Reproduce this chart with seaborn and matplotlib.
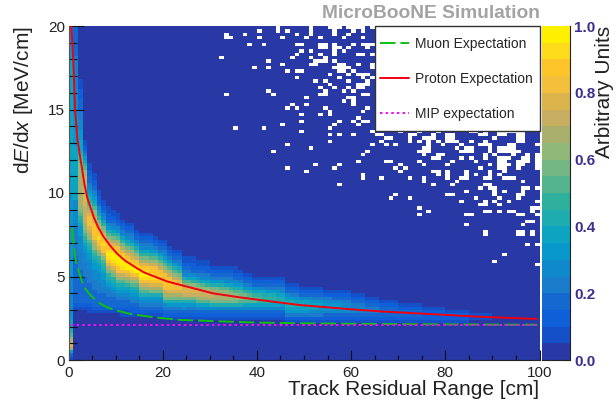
import numpy as np
import pandas as pd
from matplotlib import pyplot as plt
from matplotlib.colors import ListedColormap
from matplotlib.patches import Rectangle
from matplotlib.ticker import MultipleLocator
import seaborn as sns

# 20 colour bands of the z axis, bottom to top
band_colors = ["#2838a5", "#1450c8", "#0f5fd8", "#1468d0", "#1c7ccc",
               "#1088cc", "#0898cc", "#0ca4c0", "#1eacb0", "#2eb09c",
               "#54b48e", "#74b684", "#90b878", "#a8b06c", "#c8ae60",
               "#dcb44e", "#f4c03c", "#fcc428", "#fedc1c", "#fff000"]
level_chars = "0123456789abcdefghij"

# first y bin of each column string below (bins are 1 cm x 0.2 MeV/cm)
heat_start = [0, 15, 15, 15, 14, 14, 14, 14, 14, 14,
              14, 13, 13, 13, 13, 13, 13, 13, 13, 13,
              13, 12, 12, 12, 12, 12, 12, 12, 12, 12,
              12, 12, 12, 12, 12, 12, 12, 12, 12, 12,
              12, 12, 12, 12, 12, 12, 11, 11, 11, 11,
              11, 11, 11, 11, 11, 11, 11, 11, 11, 11,
              11, 11, 11, 11, 11, 11, 11, 11, 11, 11,
              11, 11, 11, 11, 11, 11, 11, 11, 11, 11,
              11, 11, 11, 11, 11, 11, 11, 11, 11, 11,
              11, 11, 11, 11, 11, 11, 11, 11, 11, 11]

# colour band read per bin, one string per 1 cm column
heat_cols = [
    "137dfeca987766555555555556666666666666666666666666"
    "77777777777777777777777777777777777777776666664444",
    "1233333333333333444444444455555557777777777777777"
    "666666666555555554444444444333333333",
    "1233333333334444445555666789abcdddddddddccccba98777666555444333222111",
    "1233333333444455566789abcdeeeeeffffeeeeedca97643211",
    "112333333444455566789acdefgggfeca987654332211",
    "123333344455566789acdeghhhgfedca8765432211",
    "12333344455566789bdfghihgfdb976532211",
    "123333445566789aceghihgfdb97543211",
    "123334456789bdfhijihgeca86532211",
    "12333456789bdfhijjihfdb97543211",
    "123345678aceghijjihgeca8653211",
    "1123345678acegijjihfdb9754321",
    "1123345679bdfhjjigfdb9754321",
    "122345678acegijihfeca8654321",
    "122345678acehjjhgeca864321",
    "1234568acegijjhfdb9754321",
    "1234568acegijihfdb9754321",
    "1234568bdfhiihgeca8654321",
    "1234568bdfhihhgeca864321",
    "1234568bdfhhhgeca864321",
    "23458bdeghhhgeca8654321",
    "123468bdfghhgeca864321", "123468bdfgggeca864321",
    "123468bdfggfdb9754321", "123568beffda8543211",
    "123468beffca7543211", "123468befec97532211",
    "12357acefdb8643211", "12357adeeca7543211",
    "12357adeec97542211", "12358bdedb864321",
    "12358bdddb864321", "12358bddca864321",
    "12358bddca754321", "12358bccb9754321",
    "12358bcca8653211", "12358acba864321",
    "12357abb964321", "12357aba864321",
    "12357aa975321", "123579a975321",
    "1235799875321", "1235799864321",
    "1235789864321", "1235788764321",
    "1235688754321", "124678865321",
    "124678864321", "124678764321",
    "12467875321", "12467775321",
    "12457765321", "12457764321",
    "12456764321", "1235665421",
    "1235665421", "1235665321",
    "1235665321", "1235654321",
    "1235554321", "123554321",
    "123454321", "123454321",
    "12344321", "12344321", "12344321",
    "1233321", "1233321", "1233321", "1233321",
    "123321", "123321", "123321", "123321", "123321",
    "12221", "12221", "12221", "12221", "12221",
    "1221", "1221", "1221", "1221", "1221",
    "011", "011", "011", "011", "011",
    "", "", "", "", "", "", "", "", "", "",
]

# bins with no entries: y bin -> x bins
empty_bins = {
    99: [44, 51, 55, 56, 57, 59, 60, 61, 62, 64],
    98: [40, 44, 46, 51, 56, 60, 62],
    97: [33, 37, 48, 51, 56, 59],
    96: [33, 34, 40, 45, 50, 53, 58, 62],
    94: [38, 41, 48, 49, 53, 54, 56, 60, 62, 63, 64],
    93: [53, 54, 56, 57, 59, 63],
    92: [49, 51, 56, 58],
    91: [48, 53, 56, 61, 62, 64],
    90: [32, 47, 51, 54],
    89: [42, 52, 53, 54, 56],
    88: [45, 51, 52, 57, 58, 61, 64],
    87: [39, 42, 56, 57, 58, 59, 64],
    86: [46, 48, 49, 57, 58, 60],
    85: [55, 59, 61, 62, 63],
    84: [48, 57, 62, 64],
    83: [52, 54, 59, 63],
    82: [55, 61, 62, 63],
    81: [53, 56, 59, 61, 62],
    80: [42, 54, 58, 60],
    79: [33, 43, 53, 54, 62, 63],
    78: [50, 59, 60],
    77: [58, 60],
    76: [47, 50, 60],
    75: [46, 48, 54, 63],
    74: [55, 62],
    73: [49, 53, 55],
    72: [61],
    71: [49, 57, 60, 62, 63],
    70: [45, 56, 61],
    69: [35, 41, 55],
    68: [49, 64, 70, 74, 78, 85, 86, 88, 91, 92, 93, 94, 95, 96],
    67: [55, 57, 60, 65, 66, 72, 73, 77, 80, 81, 87, 88, 91, 92, 95, 96],
    66: [67, 68, 72, 75, 76, 77, 80, 81, 90, 95, 96],
    65: [55, 66, 72, 74, 76, 78, 80, 81, 82, 85, 88, 95, 96],
    64: [46, 64, 67, 69, 76, 79, 83, 87, 88, 89, 93, 94, 99],
    63: [51, 75, 76, 82, 84, 85, 89, 91, 92, 93, 94],
    62: [43, 63, 74, 75, 76, 83, 84, 85, 89, 91, 92, 93, 94, 95],
    61: [62, 75, 78, 79, 88, 90, 94, 97, 99],
    60: [77, 78, 83, 85, 88, 91, 92, 93, 96, 97, 99],
    59: [61, 67, 68, 74, 81, 86, 91, 92, 95, 96, 97, 99],
    58: [52, 57, 70, 75, 80, 89, 91, 92, 93, 95, 96, 99],
    57: [46, 56, 69, 71, 87, 91, 92, 95, 99],
    56: [50, 70, 77, 78, 80, 84, 89, 92],
    55: [62, 78, 80, 84, 86, 89, 91],
    54: [62, 66, 72, 75, 80, 83, 84, 88, 89, 92, 93, 94],
    53: [75, 82, 96],
    52: [57, 77, 81, 88, 89],
    51: [87, 89, 90, 96, 97, 99],
    50: [84, 90, 92, 96],
    49: [69, 80, 81, 90, 95, 96],
    48: [68, 72, 86, 91, 95],
    47: [83, 88, 90, 93, 99],
    46: [87, 88, 91],
    45: [74, 98, 99],
    44: [76, 88, 89, 91, 93, 94, 98],
    43: [74, 84, 85, 95, 96, 99],
    41: [97, 98],
    40: [84, 96],
    38: [88, 95, 96, 98],
    37: [88, 95, 96, 98],
    34: [97, 99],
    31: [92],
    29: [90],
    28: [99],
}

proton_range = [0.6, 1.0, 1.4, 1.9, 2.9, 3.4, 4.0, 5.3, 6.2, 7.4, 8.7, 10.2, 12.0,
                14.5, 16.0, 18.7, 21.0, 24.4, 30.7, 36.4, 43.5, 49.2, 59.8, 66.8,
                77.5, 88.0, 99.4]
proton_dedx = [20.0, 18.0, 15.0, 13.2, 11.4, 10.5, 9.7, 8.6, 8.0, 7.4, 6.9, 6.4, 5.95,
               5.5, 5.25, 4.95, 4.7, 4.45, 3.99, 3.75, 3.49, 3.29, 3.04, 2.9,
               2.74, 2.58, 2.46]
muon_range = [0.8, 1.2, 1.6, 2.1, 2.8, 3.5, 4.3, 5.3, 6.5, 8.1, 10.0, 13.1, 18.0,
              23.7, 30.7, 40.0, 49.0, 60.0, 75.0, 90.0, 99.5]
muon_dedx = [7.9, 6.6, 5.9, 5.4, 4.75, 4.3, 4.0, 3.7, 3.42, 3.16, 2.98, 2.76, 2.56,
             2.4, 2.33, 2.24, 2.2, 2.17, 2.14, 2.12, 2.11]
mip_range = [0.5, 99.5]
mip_dedx = [2.1, 2.1]

x_ticks = [0, 20, 40, 60, 80, 100]
y_ticks = [0, 5, 10, 15, 20]
z_ticks = [0.0, 0.2, 0.4, 0.6, 0.8, 1.0]

sns.set_style("ticks")
plt.rcParams['font.family'] = ['Liberation Sans', 'DejaVu Sans']
plt.rcParams['mathtext.fontset'] = 'custom'
plt.rcParams['mathtext.it'] = 'Liberation Sans:italic'
plt.rcParams['mathtext.rm'] = 'Liberation Sans'

grid = np.zeros((100, 100))
for col, (start, levels) in enumerate(zip(heat_start, heat_cols)):
    for k, ch in enumerate(levels):
        grid[start + k, col] = (level_chars.index(ch) + 0.5) / 20
empty = np.zeros((100, 100), dtype=bool)
for row, cols in empty_bins.items():
    empty[row, cols] = True
grid_df = pd.DataFrame(grid)

W, H = 616, 401
left, right, top, bottom = 68.5, 539.5, 26, 360
pos = [left / W, 1 - bottom / H, (right - left) / W, (bottom - top) / H]

fig = plt.figure(figsize=(W / 100, H / 100), dpi=100)
ax_h = fig.add_axes(pos)
cax = fig.add_axes([542 / W, 1 - bottom / H, 28 / W, (bottom - top) / H])

sns.heatmap(grid_df, mask=empty, cmap=ListedColormap(band_colors), vmin=0, vmax=1,
            xticklabels=False, yticklabels=False, ax=ax_h, cbar_ax=cax,
            cbar_kws={"ticks": z_ticks})
ax_h.invert_yaxis()
ax_h.set_facecolor("white")
ax_h.set_xlabel("")
ax_h.set_ylabel("")
ax_h.tick_params(left=False, bottom=False)

# second axes on top in physical units, for the curves and ticks
ax = fig.add_axes(pos, facecolor="none")
sns.lineplot(x=muon_range, y=muon_dedx, color="#10c010", linewidth=1.4, sort=False,
             linestyle=(0, (8, 2.5)), label="Muon Expectation", legend=False, ax=ax)
sns.lineplot(x=proton_range, y=proton_dedx, color="#f00010", linewidth=1.4, sort=False,
             label="Proton Expectation", legend=False, ax=ax)
sns.lineplot(x=mip_range, y=mip_dedx, color="#f010f0", linewidth=1.4, sort=False,
             linestyle=(0, (1.3, 1.6)), label="MIP expectation", legend=False, ax=ax)
ax.set_xlim(0, 100)
ax.set_ylim(0, 20)
ax.set_xticks(x_ticks)
ax.set_yticks(y_ticks)
ax.xaxis.set_minor_locator(MultipleLocator(5))
ax.yaxis.set_minor_locator(MultipleLocator(1))
ax.tick_params(axis="x", which="major", direction="in", length=7, width=0.8, bottom=True,
               labelsize=11, pad=4, color="#111111", labelcolor="#222222")
ax.tick_params(axis="x", which="minor", direction="in", length=3.6, width=0.8, bottom=True,
               color="#111111")
ax.tick_params(axis="y", which="major", direction="in", length=11, width=0.8, left=True,
               labelsize=11, pad=2.5, color="#111111", labelcolor="#222222")
ax.tick_params(axis="y", which="minor", direction="in", length=5.6, width=0.8, left=True,
               color="#111111")
for side in ["top", "right"]:
    ax.spines[side].set_visible(False)
ax.spines["left"].set_color("#555555")
ax.spines["bottom"].set_color("#222222")
ax.set_xlabel("Track Residual Range [cm]", fontsize=15, loc="right", labelpad=0, color="#222222")
ax.set_ylabel(r"d$\mathit{E}$/d$\mathit{x}$ [MeV/cm]", fontsize=15, loc="top", labelpad=9.5, color="#222222")

ax.add_patch(Rectangle((0.651, 0.686), 0.349, 0.314, transform=ax.transAxes, facecolor="white",
                       edgecolor="#333333", linewidth=1, zorder=4, clip_on=False))
ax.legend(loc="upper left", bbox_to_anchor=(0.661, 0.966), frameon=False, fontsize=10,
          borderpad=0, borderaxespad=0, labelspacing=1.5, handlelength=2.1, handletextpad=0.43)

ax.text(1.0, 1.012, "MicroBooNE Simulation", transform=ax.transAxes, ha="right", va="bottom",
        fontsize=13.8, fontweight="bold", color="#a3a3a3")

# colour bar
cax.yaxis.tick_right()
cax.tick_params(axis="y", which="major", direction="in", length=4, width=0.8, color="#111111",
                right=True, labelsize=11, pad=3, labelcolor="#3d2f8f")
cax.set_yticks(z_ticks)
cax.set_yticklabels(["%.1f" % t for t in z_ticks], fontweight="bold")
cax.spines["right"].set_visible(True)
cax.spines["right"].set_color("#222222")
cax.spines["bottom"].set_visible(True)
cax.spines["bottom"].set_color("#222222")
fig.text(605 / W, 1 - 26 / H, "Arbitrary Units", rotation=90, ha="center", va="top",
         fontsize=15, color="#222222")

fig.savefig("out.png", dpi=100)
